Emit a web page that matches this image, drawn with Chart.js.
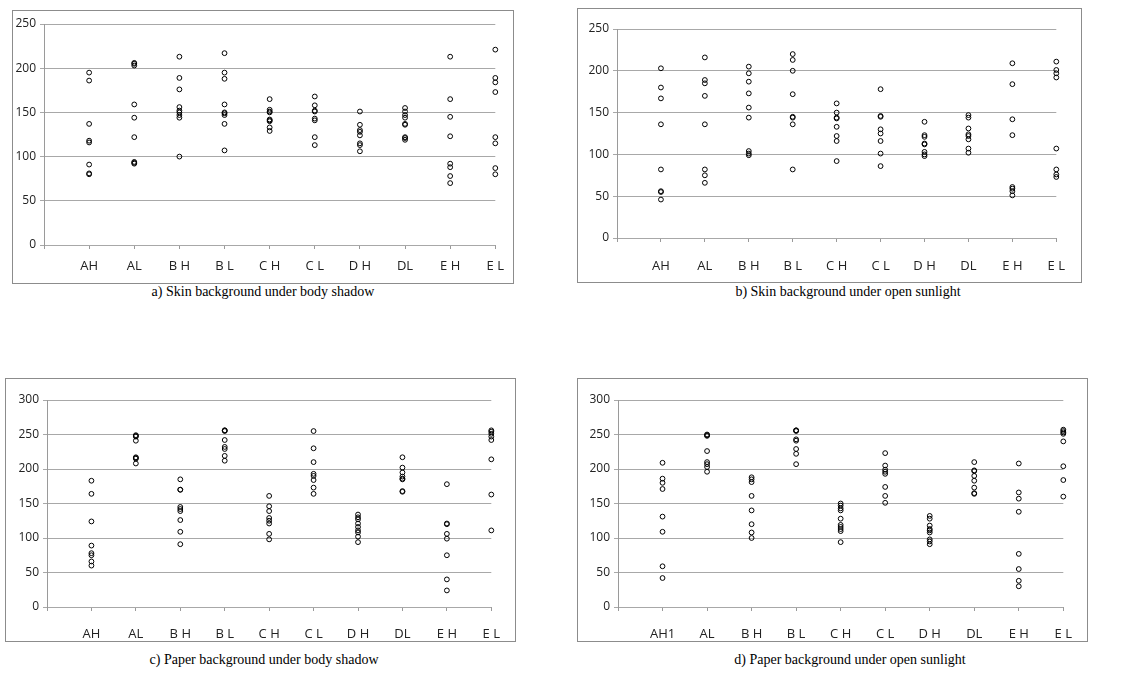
<!DOCTYPE html>
<html>
<head>
<meta charset="utf-8">
<script src="https://cdn.jsdelivr.net/npm/chart.js@4.4.1/dist/chart.umd.min.js"></script>
<style>
    body { margin: 0; background: #fff; width: 1132px; height: 683px; position: relative; overflow: hidden; }
    .panel { position: absolute; border: 1px solid #8c8c8c; background: #fff; }
    .panel canvas { display: block; }
    .cap { position: absolute; width: 400px; font-family: "Liberation Serif", "Times New Roman", serif; font-size: 14px; line-height: 16px; text-align: center; color: #000; white-space: nowrap; }
</style>
</head>
<body>
<div class="panel" style="left:12px;top:10px;width:500px;height:272px"><canvas id="chartA" width="500" height="272"></canvas></div>
<div class="panel" style="left:577px;top:8px;width:503px;height:273px"><canvas id="chartB" width="503" height="273"></canvas></div>
<div class="panel" style="left:5px;top:378px;width:509px;height:262px"><canvas id="chartC" width="509" height="262"></canvas></div>
<div class="panel" style="left:577px;top:378px;width:509px;height:262px"><canvas id="chartD" width="509" height="262"></canvas></div>

<div class="cap" style="left:63px;top:284px">a) Skin background under body shadow</div>
<div class="cap" style="left:648px;top:284px">b) Skin background under open sunlight</div>
<div class="cap" style="left:64px;top:652px">c) Paper background under body shadow</div>
<div class="cap" style="left:650px;top:652px">d) Paper background under open sunlight</div>

<script>
// Категории по оси X
const categories = ['AH', 'AL', 'B H', 'B L', 'C H', 'C L', 'D H', 'DL', 'E H', 'E L'];
const categoriesD = ['AH1', 'AL', 'B H', 'B L', 'C H', 'C L', 'D H', 'DL', 'E H', 'E L'];

// Значения по категориям (AH ... EL)
const skinShadow = [
    [195, 186, 137, 118, 116, 91, 81, 80],
    [206, 205, 203, 159, 144, 122, 94, 93, 92],
    [213, 189, 176, 156, 152, 150, 147, 144, 100],
    [217, 195, 188, 159, 150, 149, 147, 137, 107],
    [165, 153, 151, 150, 142, 141, 140, 133, 129],
    [168, 158, 152, 151, 143, 141, 122, 113],
    [151, 136, 130, 128, 124, 115, 113, 106],
    [155, 151, 147, 144, 137, 136, 122, 121, 119],
    [213, 165, 145, 123, 92, 88, 78, 70],
    [221, 189, 184, 173, 122, 115, 87, 80]
];
const skinSun = [
    [203, 180, 167, 136, 82, 56, 55, 46],
    [216, 189, 185, 170, 136, 82, 75, 66],
    [205, 197, 187, 173, 156, 144, 104, 101, 99],
    [220, 213, 200, 172, 145, 144, 136, 82],
    [161, 150, 144, 143, 133, 122, 116, 92],
    [178, 146, 145, 130, 125, 116, 101, 86],
    [139, 123, 121, 113, 112, 103, 100, 98],
    [147, 144, 131, 124, 122, 118, 107, 102],
    [209, 184, 142, 123, 61, 59, 56, 51],
    [211, 201, 197, 192, 107, 82, 76, 73]
];
const paperShadow = [
    [183, 164, 124, 89, 78, 75, 66, 60],
    [249, 248, 247, 241, 217, 216, 215, 208],
    [185, 170, 170, 145, 142, 139, 126, 109, 91],
    [256, 256, 255, 242, 232, 229, 219, 212],
    [161, 146, 139, 129, 125, 121, 106, 98],
    [255, 230, 210, 193, 190, 184, 173, 164],
    [134, 130, 127, 121, 116, 111, 108, 102, 94],
    [217, 202, 195, 189, 186, 185, 168, 167],
    [178, 121, 120, 106, 99, 75, 40, 24],
    [256, 254, 251, 247, 242, 214, 163, 111]
];
const paperSun = [
    [209, 186, 180, 171, 131, 109, 59, 42],
    [250, 249, 248, 226, 210, 207, 203, 196],
    [188, 185, 181, 161, 140, 120, 108, 100],
    [256, 256, 255, 243, 241, 229, 222, 207],
    [150, 147, 143, 140, 128, 119, 116, 113, 110, 94],
    [223, 205, 199, 196, 193, 174, 161, 151],
    [132, 128, 118, 113, 111, 108, 98, 95, 91],
    [210, 198, 197, 190, 183, 173, 165, 164],
    [208, 166, 157, 138, 77, 55, 38, 30],
    [257, 255, 253, 251, 240, 204, 184, 160]
];

Chart.defaults.font.family = '"Open Sans", sans-serif';
Chart.defaults.color = '#222';

function toPoints(groups) {
    const pts = [];
    groups.forEach((g, i) => g.forEach(v => pts.push({ x: i + 1, y: v })));
    return pts;
}

function makeChart(id, groups, labels, yMax, geo) {
    const ctx = document.getElementById(id).getContext('2d');
    return new Chart(ctx, {
        type: 'scatter',
        data: {
            datasets: [{
                data: toPoints(groups),
                pointStyle: 'circle',
                pointRadius: 2.4,
                pointHoverRadius: 2.4,
                borderWidth: 1,
                borderColor: '#000',
                backgroundColor: 'rgba(0,0,0,0)',
                clip: false
            }]
        },
        options: {
            responsive: false,
            animation: false,
            events: [],
            layout: {
                autoPadding: false,
                padding: { left: 0, top: geo.top, right: geo.right, bottom: 0 }
            },
            plugins: { legend: { display: false }, tooltip: { enabled: false } },
            scales: {
                x: {
                    type: 'linear',
                    min: 0, max: 10,
                    afterFit: s => { s.height = geo.xh; },
                    afterBuildTicks: s => { s.ticks = labels.map((_, i) => ({ value: i })).concat([{ value: 10 }]); },
                    border: { display: false },
                    grid: { drawOnChartArea: false, drawTicks: true, tickLength: 4, color: '#9a9a9a' },
                    ticks: {
                        autoSkip: false, maxRotation: 0, padding: geo.lp,
                        font: { size: 13 }, color: '#222',
                        callback: v => (v >= 1 && v <= 10 ? labels[v - 1] : '')
                    }
                },
                y: {
                    min: 0, max: yMax,
                    afterFit: s => { s.width = geo.yw; },
                    border: { display: true, color: '#9a9a9a' },
                    grid: { color: '#a8a8a8', tickLength: 4, drawTicks: true },
                    ticks: { stepSize: 50, padding: 4, font: { size: 12 }, color: '#222' }
                }
            }
        }
    });
}

makeChart('chartA', skinShadow, categories, 250, { yw: 31, xh: 38, top: 13, right: 7, lp: 9 });
makeChart('chartB', skinSun, categories, 250, { yw: 39, xh: 44, top: 20, right: 17, lp: 16 });
makeChart('chartC', paperShadow, categories, 300, { yw: 41, xh: 34, top: 21, right: 17, lp: 15 });
makeChart('chartD', paperSun, categoriesD, 300, { yw: 40, xh: 34, top: 21, right: 18, lp: 15 });
</script>
</body>
</html>
